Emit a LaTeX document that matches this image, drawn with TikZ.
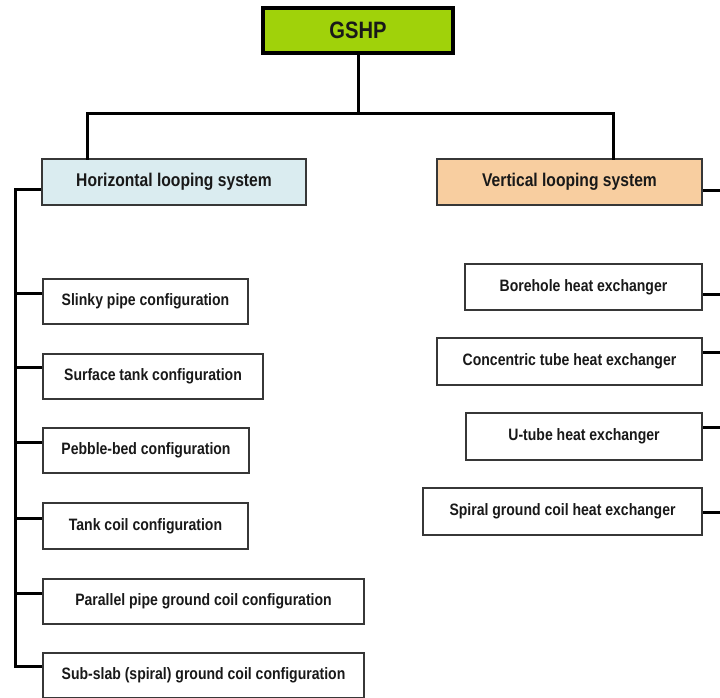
\documentclass[tikz,border=0pt]{standalone}
\usepackage{fontspec}
\newfontfamily\labfont[FakeStretch=0.85]{Liberation Sans}
\usetikzlibrary{calc}
\definecolor{gshpgreen}{RGB}{160,210,10}
\definecolor{hblue}{RGB}{218,236,240}
\definecolor{vpeach}{RGB}{248,206,160}
\definecolor{boxline}{RGB}{55,55,55}
\definecolor{txt}{RGB}{25,25,25}
\tikzset{
  every node/.style={text=txt},
  itembox/.style={draw=boxline, line width=2pt, fill=white, minimum height=45pt, inner sep=0pt,
    font=\labfont\bfseries\fontsize{16.5}{18}\selectfont},
  headbox/.style={draw=boxline, line width=2pt, minimum height=46pt, inner sep=0pt,
    font=\labfont\bfseries\fontsize{18.4}{20}\selectfont},
  topbox/.style={draw=black, line width=3.5pt, fill=gshpgreen, minimum height=45pt, minimum width=190pt, inner sep=0pt,
    font=\labfont\bfseries\fontsize{23.7}{26}\selectfont},
  conn/.style={draw=black, line width=3pt}
}
\begin{document}
\begin{tikzpicture}[x={(1pt,0)}, y={(0,-1pt)}]
\useasboundingbox (0,0) rectangle (720,697);
\clip (0,0) rectangle (720,697);
\fill[white] (0,0) rectangle (720,697);

% nodes
\node[topbox] (gshp) at (358,30.5) {GSHP};
\node[headbox, fill=hblue, minimum width=264pt] (hls) at (174,182) {Horizontal looping system};
\node[headbox, fill=vpeach, minimum width=265pt] (vls) at (569.5,182) {Vertical looping system};

\node[itembox, minimum width=205pt] (s1) at (145.5,301.5) {Slinky pipe configuration};
\node[itembox, minimum width=220pt] (s2) at (153,376.5) {Surface tank configuration};
\node[itembox, minimum width=206pt] (s3) at (146,450.5) {Pebble-bed configuration};
\node[itembox, minimum width=205pt, minimum height=46pt] (s4) at (145.5,526) {Tank coil configuration};
\node[itembox, minimum width=321pt] (s5) at (203.5,601.5) {Parallel pipe ground coil configuration};
\node[itembox, minimum width=321pt] (s6) at (203.5,675.5) {Sub-slab (spiral) ground coil configuration};

\node[itembox, minimum width=237pt, minimum height=46pt] (r1) at (583.5,287) {Borehole heat exchanger};
\node[itembox, minimum width=265pt, minimum height=47pt] (r2) at (569.5,361.5) {Concentric tube heat exchanger};
\node[itembox, minimum width=236pt, minimum height=47pt] (r3) at (584,436.5) {U-tube heat exchanger};
\node[itembox, minimum width=279pt, minimum height=47pt] (r4) at (562.5,511.5) {Spiral ground coil heat exchanger};

% coordinates for the trunk
\coordinate (hbar) at (87,113);
\coordinate (vbar) at (613,113);
\coordinate (lspine) at (15,189);
\coordinate (rspine) at (723,190);

% top tree
\draw[conn] (gshp.south) -- (gshp.south |- hbar);
\draw[conn, line cap=rect] (hbar |- hls.north) -- (hbar) -- (vbar) -- (vbar |- vls.north);

% left spine
\coordinate (h0) at ($(hls.north west)!0.65!(hls.south west)$);
\coordinate (a1) at ($(s1.north west)!0.33!(s1.south west)$);
\coordinate (a2) at ($(s2.north west)!0.31!(s2.south west)$);
\coordinate (a3) at ($(s3.north west)!0.32!(s3.south west)$);
\coordinate (a4) at ($(s4.north west)!0.35!(s4.south west)$);
\coordinate (a5) at ($(s5.north west)!0.33!(s5.south west)$);
\coordinate (a6) at ($(s6.north west)!0.31!(s6.south west)$);
\draw[conn, line join=miter] (h0) -- (lspine |- h0) -- (lspine |- a6) -- (a6);
\foreach \a in {a1,a2,a3,a4,a5} \draw[conn] (lspine |- \a) -- (\a);

% right spine
\coordinate (v0) at ($(vls.north east)!0.67!(vls.south east)$);
\coordinate (b1) at ($(r1.north east)!0.66!(r1.south east)$);
\coordinate (b2) at ($(r2.north east)!0.32!(r2.south east)$);
\coordinate (b3) at ($(r3.north east)!0.32!(r3.south east)$);
\coordinate (b4) at ($(r4.north east)!0.51!(r4.south east)$);
\draw[conn] (v0) -- (rspine |- v0) -- (rspine |- b4);
\foreach \b in {b1,b2,b3,b4} \draw[conn] (\b) -- (rspine |- \b);
\end{tikzpicture}
\end{document}
